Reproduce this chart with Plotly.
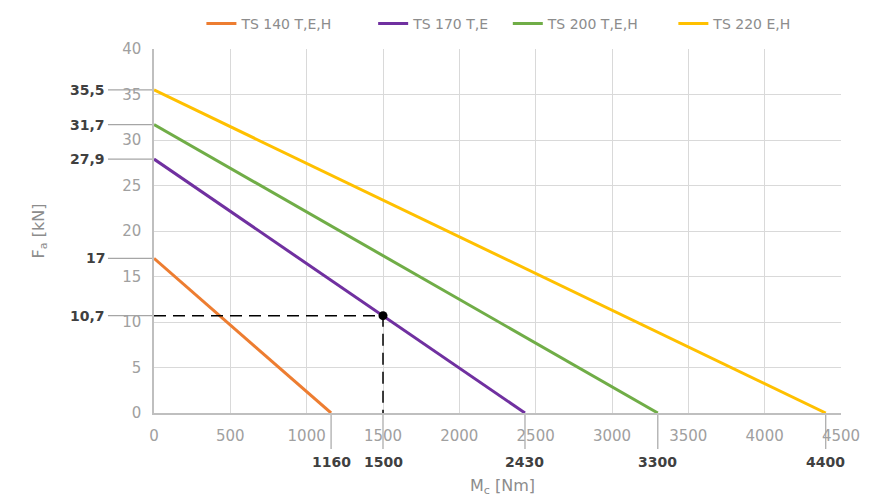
import plotly.graph_objects as go

series_names = ["TS 140 T,E,H", "TS 170 T,E", "TS 200 T,E,H", "TS 220 E,H"]
max_force = [17, 27.9, 31.7, 35.5]          # F_a at M_c = 0 [kN]
max_moment = [1160, 2430, 3300, 4400]       # M_c at F_a = 0 [Nm]
colors = ["#ED7D31", "#7030A0", "#70AD47", "#FFC000"]

y_labels = ["17", "27,9", "31,7", "35,5", "10,7"]
y_label_values = [17, 27.9, 31.7, 35.5, 10.7]
x_labels = ["1160", "1500", "2430", "3300", "4400"]
x_label_values = [1160, 1500, 2430, 3300, 4400]

point_x = [1500]
point_y = [10.7]

x_ticks = [0, 500, 1000, 1500, 2000, 2500, 3000, 3500, 4000, 4500]
y_ticks = [0, 5, 10, 15, 20, 25, 30, 35, 40]

FONT = "DejaVu Sans"
fig = go.Figure()

legend_ids = ["legend", "legend2", "legend3", "legend4"]
legend_x = [0.069, 0.319, 0.515, 0.756]

for name, f, m, c, lg in zip(series_names, max_force, max_moment, colors, legend_ids):
    fig.add_trace(go.Scatter(x=[0, m], y=[f, 0], mode="lines", name=name,
                             line=dict(color=c, width=3), legend=lg))

# dashed guide lines
fig.add_trace(go.Scatter(x=[0, point_x[0], point_x[0]], y=[point_y[0], point_y[0], 0],
                         mode="lines", line=dict(color="black", width=1.5, dash="12px,7px"),
                         showlegend=False, hoverinfo="skip"))
fig.add_trace(go.Scatter(x=point_x, y=point_y, mode="markers",
                         marker=dict(color="black", size=9), showlegend=False))

shapes = []
annotations = []
for lab, v in zip(y_labels, y_label_values):
    shapes.append(dict(type="line", xref="paper", yref="y", x0=-0.067, x1=0, y0=v, y1=v,
                       line=dict(color="#A6A6A6", width=1.2), layer="below"))
    annotations.append(dict(xref="paper", yref="y", x=-0.069, y=v, text="<b>%s</b>" % lab,
                            showarrow=False, xanchor="right", yanchor="middle",
                            font=dict(family=FONT, size=14, color="#404040")))
for lab, v in zip(x_labels, x_label_values):
    shapes.append(dict(type="line", xref="x", yref="paper", x0=v, x1=v, y0=0, y1=-0.099,
                       line=dict(color="#A6A6A6", width=1.2), layer="below"))
    annotations.append(dict(xref="x", yref="paper", x=v, y=-0.108, text="<b>%s</b>" % lab,
                            showarrow=False, xanchor="center", yanchor="top",
                            font=dict(family=FONT, size=14, color="#404040")))

annotations.append(dict(xref="paper", yref="paper", x=0.508, y=-0.203,
                        text="M<sub>c</sub> [Nm]", showarrow=False,
                        xanchor="center", yanchor="middle",
                        font=dict(family=FONT, size=16, color="#8C8C8C")))

legend_common = dict(orientation="h", xanchor="left", y=1.0, yanchor="top",
                     yref="container", font=dict(size=14, color="#8C8C8C"),
                     bgcolor="rgba(0,0,0,0)")

fig.update_layout(
    width=869, height=491,
    margin=dict(l=146, r=36, t=41, b=86, autoexpand=False),
    paper_bgcolor="white", plot_bgcolor="white",
    font=dict(family=FONT, color="#A0A0A0", size=14),
    shapes=shapes, annotations=annotations,
    xaxis=dict(range=[0, 4500], tickvals=x_ticks, showgrid=True, gridcolor="#D9D9D9",
               gridwidth=1, showline=True, linecolor="#BFBFBF", linewidth=1.5,
               zeroline=False, ticks="", ticklabelstandoff=8, automargin=False,
               tickfont=dict(size=15, color="#A0A0A0")),
    yaxis=dict(range=[0, 40], tickvals=y_ticks, showgrid=True, gridcolor="#D9D9D9",
               gridwidth=1, showline=True, linecolor="#BFBFBF", linewidth=1.5,
               zeroline=False, ticks="", ticklabelstandoff=8, automargin=False,
               tickfont=dict(size=15, color="#A0A0A0"),
               title=dict(text="F<sub>a</sub> [kN]", standoff=74,
                          font=dict(size=16, color="#8C8C8C"))),
)
for lg, lx in zip(legend_ids, legend_x):
    fig.update_layout({lg: dict(legend_common, x=lx)})

fig.write_html("out.html")
